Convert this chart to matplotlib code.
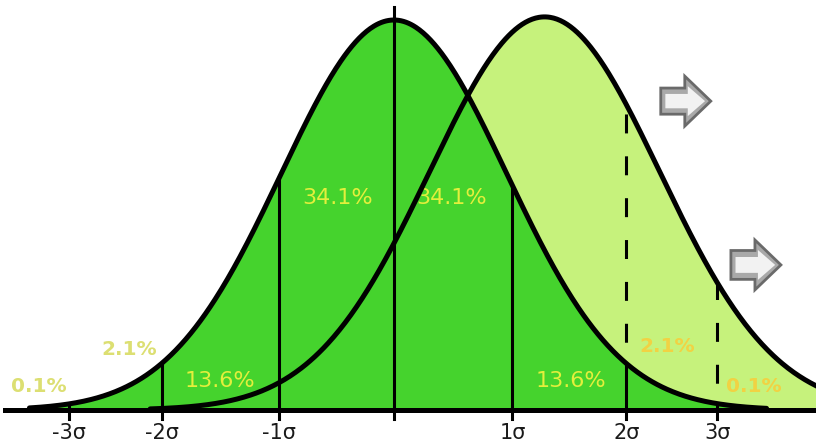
import numpy as np
import matplotlib.pyplot as plt
from matplotlib.patches import FancyArrow

# Two bell curves (x in sigma units, y relative to the first curve's peak)
curve_means = [0.0, 1.31]
curve_sds = [0.98, 1.0]
curve_peaks = [1.0, 1.008]
curve_spans = [(-3.17, 3.24), (-2.12, 3.75)]
fill_colors = ["#45d32d", "#c6f27c"]

# sigma ticks along the baseline
tick_pos = [-2.83, -2.02, -1.0, 0.0, 1.03, 2.02, 2.81]
tick_labels = ["-3σ", "-2σ", "-1σ", "", "1σ", "2σ", "3σ"]
center_top = 1.033

# dashed guides between the two curves
dashed_pos = [2.02, 2.81]

# percentage labels
pct_labels = ["0.1%", "2.1%", "13.6%", "34.1%", "34.1%", "13.6%", "2.1%", "0.1%"]
pct_x = [-3.09, -2.30, -1.51, -0.49, 0.50, 1.54, 2.38, 3.13]
pct_y = [0.059, 0.156, 0.074, 0.544, 0.544, 0.074, 0.164, 0.059]
pct_colors = ["#dcdf72", "#dcdf72", "#e3ef3c", "#e3ef3c",
              "#e3ef3c", "#e3ef3c", "#f1d243", "#f1d243"]
pct_weights = ["bold", "bold", "normal", "normal",
               "normal", "normal", "bold", "bold"]

# shift arrows
arrow_x = [2.32, 2.93]
arrow_y = [0.792, 0.372]
arrow_len = 0.435
arrow_body = [0.067, 0.074]
arrow_head = 0.128


def bell(x, i):
    return curve_peaks[i] * np.exp(-0.5 * ((x - curve_means[i]) / curve_sds[i]) ** 2)


fig = plt.figure(figsize=(8.16, 4.43), dpi=100)
ax = fig.add_axes([0, 0, 1, 1])
ax.set_xlim(-3.426, 3.670)
ax.set_ylim(-0.0846, 1.0513)
ax.axis("off")

# fills: shifted (light) first, original (dark) on top
for i, z in [(1, 1), (0, 2)]:
    xs = np.linspace(curve_spans[i][0], curve_spans[i][1], 600)
    ax.fill_between(xs, 0, bell(xs, i), color=fill_colors[i], lw=0, zorder=z)

# solid sigma lines and ticks
for p in tick_pos:
    top = center_top if p == 0 else bell(p, 0)
    ax.plot([p, p], [-0.024, top], color="black", lw=2.2, zorder=3)

# dashed lines from dark curve up to light curve
for p in dashed_pos:
    ax.plot([p, p], [bell(p, 0), bell(p, 1)], color="black", lw=2.2,
            ls=(6.9, (6.2, 7.5)), zorder=3)

for lbl, x, y, c, w in zip(pct_labels, pct_x, pct_y, pct_colors, pct_weights):
    ax.text(x, y, lbl, ha="center", va="center", fontsize=16 if w == "normal" else 14.5,
            color=c, fontweight=w, zorder=4)

# outlines
for i in range(2):
    xs = np.linspace(curve_spans[i][0], curve_spans[i][1], 600)
    ax.plot(xs, bell(xs, i), color="black", lw=3.6, zorder=5, solid_capstyle="round")

# baseline
ax.plot([-3.38, 3.67], [0, 0], color="black", lw=3.6, zorder=6)

for p, lbl in zip(tick_pos, tick_labels):
    ax.text(p, -0.0835, lbl, ha="center", va="bottom", fontsize=15, color="#1a1a1a")

for x, y, bw in zip(arrow_x, arrow_y, arrow_body):
    ax.add_patch(FancyArrow(x, y, arrow_len, 0, width=bw, head_width=arrow_head,
                            head_length=0.226, length_includes_head=True,
                            fc="#a9a9a9", ec="#6a6a6a", lw=2.0, zorder=6))
    # lighter inner face for the bevelled look
    ax.add_patch(FancyArrow(x + 0.04, y, arrow_len - 0.09, 0, width=bw * 0.55,
                            head_width=arrow_head * 0.6, head_length=0.15,
                            length_includes_head=True, fc="#f2f2f2", ec="none",
                            zorder=7))

fig.savefig("out.png", dpi=100)
